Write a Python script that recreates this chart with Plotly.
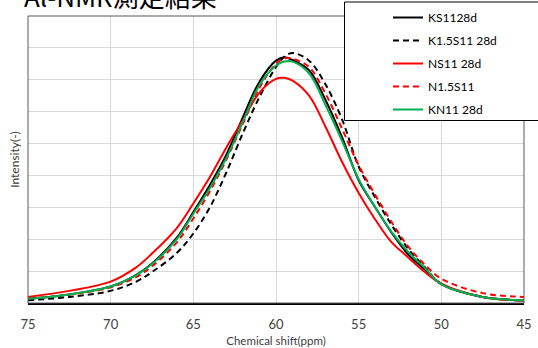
import plotly.graph_objects as go

# Chemical shift sample points (ppm)
shift_ppm = [75, 72.5, 70, 68.5, 67.5, 66, 65, 64, 63, 62, 61, 60, 59.5, 59, 58, 57, 56, 55, 54, 53, 52, 51, 50, 47.5, 45]

# Intensity values
ks11_28d = [0.13, 0.27, 0.52, 0.87, 1.24, 2.05, 2.85, 3.70, 4.65, 5.83, 6.94, 7.60, 7.71, 7.62, 7.30, 6.36, 5.19, 3.85, 3.00, 2.20, 1.52, 1.05, 0.59, 0.19, 0.08]
k15s11_28d = [0.085, 0.19, 0.38, 0.66, 0.97, 1.57, 2.18, 3.00, 4.10, 5.33, 6.46, 7.40, 7.72, 7.84, 7.60, 6.85, 5.75, 4.28, 3.31, 2.44, 1.70, 1.12, 0.60, 0.19, 0.08]
ns11_28d = [0.19, 0.38, 0.67, 1.10, 1.55, 2.35, 3.12, 3.95, 4.88, 5.74, 6.60, 7.03, 7.06, 6.97, 6.50, 5.52, 4.42, 3.45, 2.62, 1.90, 1.43, 0.97, 0.61, 0.19, 0.08]
n15s11 = [0.14, 0.26, 0.49, 0.80, 1.15, 1.90, 2.65, 3.50, 4.50, 5.62, 6.75, 7.50, 7.67, 7.66, 7.40, 6.56, 5.46, 4.32, 3.39, 2.53, 1.77, 1.20, 0.76, 0.31, 0.19]
kn11_28d = [0.13, 0.27, 0.52, 0.86, 1.22, 2.00, 2.80, 3.60, 4.55, 5.68, 6.83, 7.45, 7.57, 7.57, 7.20, 6.20, 5.08, 3.88, 3.00, 2.22, 1.60, 1.10, 0.59, 0.19, 0.085]

series = [
    ("KS1128d", ks11_28d, "#000000", "solid"),
    ("K1.5S11 28d", k15s11_28d, "#000000", "6px,4px"),
    ("NS11 28d", ns11_28d, "#ff0000", "solid"),
    ("N1.5S11", n15s11, "#ff0000", "6px,4px"),
    ("KN11 28d", kn11_28d, "#00b050", "solid"),
]

x_ticks = [75, 70, 65, 60, 55, 50, 45]

W, H = 538, 348
ML, MR, MT, MB = 28, 14, 16, 45
PH = H - MT - MB
PW = W - ML - MR

def px_x(p):
    return (p - ML) / PW

def px_y(p):
    return (H - MB - p) / PH

fig = go.Figure()
for i, (name, vals, color, dash) in enumerate(series):
    fig.add_trace(go.Scatter(
        x=shift_ppm, y=vals, name=name, mode="lines",
        line=dict(color=color, width=2, dash=dash, shape="spline", smoothing=1.0),
        legendgroup=f"g{i}",
    ))

font_main = "Lato, 'Noto Sans', sans-serif"

fig.update_layout(
    width=W, height=H,
    margin=dict(l=ML, r=MR, t=MT, b=MB, autoexpand=False),
    paper_bgcolor="white", plot_bgcolor="white",
    font=dict(family=font_main, color="#404040", size=12),
    showlegend=True,
    legend=dict(
        x=px_x(388), y=px_y(3), xanchor="left", yanchor="top",
        bgcolor="rgba(0,0,0,0)", borderwidth=0,
        font=dict(family=font_main, size=12, color="#000000"),
        traceorder="grouped", tracegroupgap=4, itemwidth=30,
    ),
    xaxis=dict(
        range=[75, 45], tickvals=x_ticks, ticktext=[str(v) for v in x_ticks],
        showgrid=True, gridcolor="#d9d9d9", gridwidth=1,
        showline=True, linecolor="#000000", linewidth=2,
        ticks="", ticklabelstandoff=8, zeroline=False,
        tickfont=dict(family=font_main, size=13, color="#404040"),
        title=dict(text="Chemical shift(ppm)", standoff=6,
                   font=dict(family=font_main, size=11.5, color="#404040")),
    ),
    yaxis=dict(
        range=[0, 9], dtick=1, showticklabels=False,
        showgrid=True, gridcolor="#d9d9d9", gridwidth=1,
        showline=False, ticks="", zeroline=False,
        title=dict(text="Intensity(-)", standoff=4,
                   font=dict(family=font_main, size=12, color="#404040")),
    ),
    shapes=[
        dict(type="rect", xref="paper", yref="paper", x0=0, x1=1, y0=0, y1=1,
             line=dict(color="#595959", width=1), fillcolor="rgba(0,0,0,0)", layer="above"),
        dict(type="rect", xref="paper", yref="paper",
             x0=px_x(344.5), x1=px_x(545), y0=px_y(120.5), y1=px_y(2),
             line=dict(color="#000000", width=1), fillcolor="white", layer="above"),
    ],
    annotations=[
        dict(text="Al-NMR測定結果", xref="paper", yref="paper",
             x=px_x(22), y=px_y(-4), xanchor="left", yanchor="middle", showarrow=False,
             font=dict(family="'Noto Sans CJK JP', sans-serif", size=26, color="#000000")),
    ],
)

fig.write_html(
    "out.html",
    config={"displayModeBar": False, "staticPlot": True},
    post_script="document.body.style.margin='0';document.body.style.overflow='hidden';",
)
